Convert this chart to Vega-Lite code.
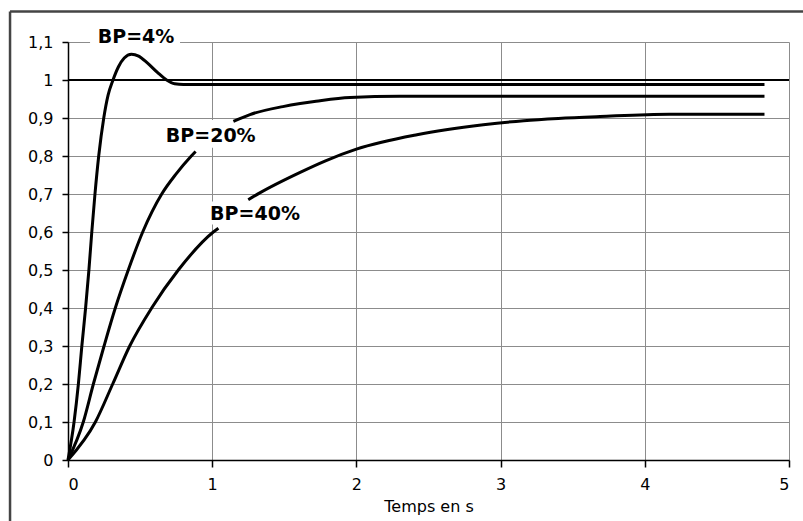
{
  "$schema": "https://vega.github.io/schema/vega-lite/v6.json",
  "width": 721,
  "height": 418,
  "autosize": {"type": "none"},
  "padding": {"left": 68, "top": 42, "right": 14, "bottom": 61},
  "background": "white",
  "config": {
    "view": {"stroke": null},
    "font": "DejaVu Sans"
  },
  "datasets": {
    "curves": [
      {"t": 0, "v": 0, "s": "4a"}, {"t": 0.042, "v": 0.1, "s": "4a"}, {"t": 0.072, "v": 0.2, "s": "4a"}, {"t": 0.096, "v": 0.3, "s": "4a"}, {"t": 0.122, "v": 0.4, "s": "4a"}, {"t": 0.145, "v": 0.5, "s": "4a"}, {"t": 0.165, "v": 0.6, "s": "4a"}, {"t": 0.187, "v": 0.7, "s": "4a"}, {"t": 0.213, "v": 0.8, "s": "4a"}, {"t": 0.248, "v": 0.9, "s": "4a"}, {"t": 0.278, "v": 0.96, "s": "4a"}, {"t": 0.312, "v": 1.0, "s": "4a"}, {"t": 0.35, "v": 1.035, "s": "4a"}, {"t": 0.39, "v": 1.058, "s": "4a"}, {"t": 0.44, "v": 1.068, "s": "4a"}, {"t": 0.49, "v": 1.063, "s": "4a"}, {"t": 0.55, "v": 1.045, "s": "4a"}, {"t": 0.62, "v": 1.02, "s": "4a"}, {"t": 0.684, "v": 1.0, "s": "4a"}, {"t": 0.74, "v": 0.99, "s": "4a"}, {"t": 0.8, "v": 0.988, "s": "4a"}, {"t": 4.83, "v": 0.988, "s": "4a"},
      {"t": 0, "v": 0, "s": "20a"}, {"t": 0.106, "v": 0.1, "s": "20a"}, {"t": 0.176, "v": 0.2, "s": "20a"}, {"t": 0.25, "v": 0.3, "s": "20a"}, {"t": 0.328, "v": 0.4, "s": "20a"}, {"t": 0.418, "v": 0.5, "s": "20a"}, {"t": 0.518, "v": 0.6, "s": "20a"}, {"t": 0.65, "v": 0.7, "s": "20a"}, {"t": 0.75, "v": 0.753, "s": "20a"}, {"t": 0.855, "v": 0.8, "s": "20a"}, {"t": 0.885, "v": 0.812, "s": "20a"},
      {"t": 1.147, "v": 0.891, "s": "20b"}, {"t": 1.262, "v": 0.909, "s": "20b"}, {"t": 1.49, "v": 0.93, "s": "20b"}, {"t": 1.61, "v": 0.938, "s": "20b"}, {"t": 1.72, "v": 0.944, "s": "20b"}, {"t": 1.956, "v": 0.954, "s": "20b"}, {"t": 2.3, "v": 0.957, "s": "20b"}, {"t": 4.83, "v": 0.957, "s": "20b"},
      {"t": 0, "v": 0, "s": "40a"}, {"t": 0.19, "v": 0.1, "s": "40a"}, {"t": 0.31, "v": 0.2, "s": "40a"}, {"t": 0.428, "v": 0.3, "s": "40a"}, {"t": 0.58, "v": 0.4, "s": "40a"}, {"t": 0.765, "v": 0.5, "s": "40a"}, {"t": 1.008, "v": 0.6, "s": "40a"}, {"t": 1.043, "v": 0.61, "s": "40a"},
      {"t": 1.25, "v": 0.685, "s": "40b"}, {"t": 1.33, "v": 0.703, "s": "40b"}, {"t": 1.61, "v": 0.757, "s": "40b"}, {"t": 1.79, "v": 0.788, "s": "40b"}, {"t": 2.0, "v": 0.818, "s": "40b"}, {"t": 2.42, "v": 0.856, "s": "40b"}, {"t": 2.88, "v": 0.882, "s": "40b"}, {"t": 3.16, "v": 0.893, "s": "40b"}, {"t": 3.4, "v": 0.899, "s": "40b"}, {"t": 3.69, "v": 0.904, "s": "40b"}, {"t": 4.17, "v": 0.91, "s": "40b"}, {"t": 4.83, "v": 0.91, "s": "40b"}
    ],
    "notes": [
      {"t": 0.472, "v": 1.112, "label": "BP=4%", "t0": 0.153, "t1": 0.777, "v0": 1.084, "v1": 1.14},
      {"t": 0.99, "v": 0.852, "label": "BP=20%", "t0": 0.65, "t1": 1.33, "v0": 0.822, "v1": 0.895},
      {"t": 1.297, "v": 0.647, "label": "BP=40%", "t0": 0.97, "t1": 1.63, "v0": 0.62, "v1": 0.68}
    ],
    "frame": [{"t": -0.402, "v": 1.18, "v2": -0.17, "t2": 5.2}]
  },
  "encoding": {
    "x": {"field": "t", "type": "quantitative", "scale": {"domain": [0, 5], "nice": false},
      "axis": {"values": [0, 1, 2, 3, 4, 5], "title": "Temps en s", "labelExpr": "format(datum.value, 'd')",
        "grid": true, "gridColor": "#8c8c8c", "gridWidth": 1, "gridOpacity": 1,
        "domainColor": "black", "domainWidth": 1.5, "tickColor": "black", "tickWidth": 1.5, "tickSize": 7,
        "labelFont": "DejaVu Sans", "labelFontSize": 16, "labelColor": "black", "labelPadding": 9, "labelOverlap": false, "labelSeparation": 0,
        "titleFont": "DejaVu Sans", "titleFontSize": 16, "titleFontWeight": "normal", "titleColor": "black", "titlePadding": 6}},
    "y": {"field": "v", "type": "quantitative", "scale": {"domain": [0, 1.1], "nice": false},
      "axis": {"values": [0, 0.1, 0.2, 0.3, 0.4, 0.5, 0.6, 0.7, 0.8, 0.9, 1, 1.1], "title": null,
        "labelExpr": "replace(format(datum.value, '.1~f'), '.', ',')",
        "grid": true, "gridColor": "#8c8c8c", "gridWidth": 1, "gridOpacity": 1,
        "domainColor": "black", "domainWidth": 1.5, "tickColor": "black", "tickWidth": 1.5, "tickSize": 6,
        "labelFont": "DejaVu Sans", "labelFontSize": 16, "labelColor": "black", "labelPadding": 9, "labelOverlap": false, "labelSeparation": 0}}
  },
  "layer": [
    {
      "data": {"name": "notes"},
      "mark": {"type": "rect", "fill": "white", "stroke": null},
      "encoding": {
        "x": {"field": "t0", "type": "quantitative"},
        "x2": {"field": "t1"},
        "y": {"field": "v0", "type": "quantitative"},
        "y2": {"field": "v1"}
      }
    },
    {
      "data": {"name": "notes"},
      "mark": {"type": "rule", "color": "black", "strokeWidth": 2},
      "encoding": {"y": {"datum": 1, "type": "quantitative"}, "x": {"datum": 0, "type": "quantitative"}, "x2": {"datum": 5}}
    },
    {
      "data": {"name": "curves"},
      "mark": {"type": "line", "color": "black", "strokeWidth": 3, "interpolate": "monotone"},
      "encoding": {"detail": {"field": "s"}}
    },
    {
      "data": {"name": "notes"},
      "mark": {"type": "text", "font": "DejaVu Sans", "fontWeight": "bold", "fontSize": 19, "color": "black", "align": "center", "baseline": "middle"},
      "encoding": {"text": {"field": "label"}}
    },
    {
      "data": {"name": "frame"},
      "mark": {"type": "rule", "color": "#444444", "strokeWidth": 2.5},
      "encoding": {"y2": {"field": "v2"}}
    },
    {
      "data": {"name": "frame"},
      "mark": {"type": "rule", "color": "#444444", "strokeWidth": 2.5},
      "encoding": {"x2": {"field": "t2"}}
    }
  ]
}
